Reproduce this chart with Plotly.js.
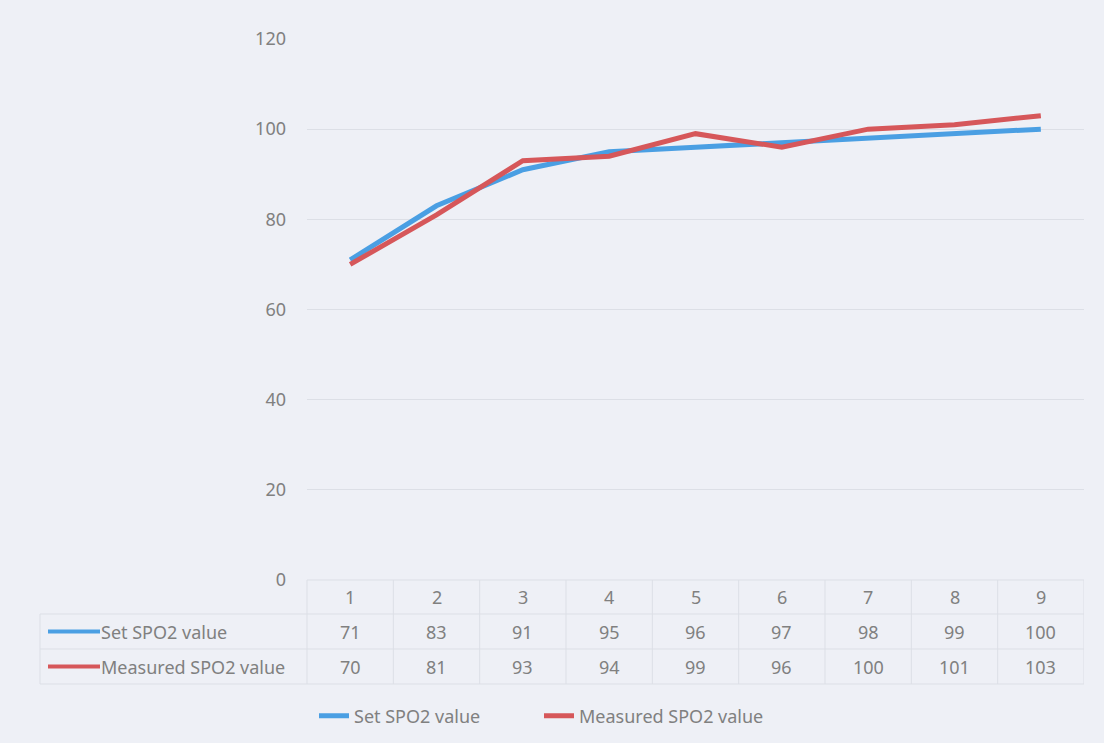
<!DOCTYPE html>
<html><head><meta charset="utf-8">
<script src="https://cdn.plot.ly/plotly-3.0.1.min.js"></script>
<style>html,body{margin:0;padding:0;background:#eef0f6;}</style>
</head><body>
<div id="chart" style="width:1104px;height:743px;"></div>
<script>
const categories = [1, 2, 3, 4, 5, 6, 7, 8, 9];
const setSPO2 = [71, 83, 91, 95, 96, 97, 98, 99, 100];
const measuredSPO2 = [70, 81, 93, 94, 99, 96, 100, 101, 103];
const seriesNames = ["Set SPO2 value", "Measured SPO2 value"];
const yTicks = [0, 20, 40, 60, 80, 100, 120];

const blue = "#4a9fe3", red = "#d6575a", grey = "#808080", gridc = "#dcdfe6";
const font = {family: "Noto Sans, Open Sans, sans-serif", size: 18, color: grey};

// table geometry (paper coords)
const L = 307, W = 777, T = 39, H = 541;
const B0 = T + H;
const px = v => (v - L) / W, py = v => (B0 - v) / H;
const rowTop = py(B0), r1 = py(614), r2 = py(649), r3 = py(684);
const tableLeft = px(40);

const shapes = [];
const ln = (x0, y0, x1, y1, xref) => shapes.push({type: "line", xref: xref || "paper", yref: "paper", x0, y0, x1, y1, line: {color: gridc, width: 1}, layer: "below"});
ln(0, rowTop, 1, rowTop);
[r1, r2, r3].forEach(y => ln(tableLeft, y, 1, y));
ln(tableLeft, r1, tableLeft, r3);
ln(0, rowTop, 0, r3);
categories.forEach((c, i) => ln(c + 0.5, rowTop, c + 0.5, r3, "x"));

const annotations = [];
const rowsY = [(rowTop + r1) / 2, (r1 + r2) / 2, (r2 + r3) / 2];
const cell = (x, y, text, xref, xanchor) => annotations.push({x, y, xref, yref: "paper", xanchor: xanchor || "center", yanchor: "middle", text, showarrow: false, font});
categories.forEach((c, i) => {
  cell(c, rowsY[0], String(c), "x");
  cell(c, rowsY[1], String(setSPO2[i]), "x");
  cell(c, rowsY[2], String(measuredSPO2[i]), "x");
});
[[blue, seriesNames[0], rowsY[1]], [red, seriesNames[1], rowsY[2]]].forEach(([col, name, y]) => {
  shapes.push({type: "line", xref: "paper", yref: "paper", x0: px(48), x1: px(100), y0: y, y1: y, line: {color: col, width: 4}});
  cell(px(99), y, name, "paper", "left");
});

const traces = [
  {x: categories, y: setSPO2, name: seriesNames[0], type: "scatter", mode: "lines", line: {color: blue, width: 5}},
  {x: categories, y: measuredSPO2, name: seriesNames[1], type: "scatter", mode: "lines", line: {color: red, width: 5}}
];

const layout = {
  width: 1104, height: 743,
  margin: {l: L, r: 1104 - L - W, t: T, b: 743 - T - H, autoexpand: false},
  paper_bgcolor: "#eef0f6", plot_bgcolor: "rgba(0,0,0,0)",
  font,
  showlegend: true,
  legend: {orientation: "h", x: px(314), xanchor: "left", y: py(716), yanchor: "middle", font, bgcolor: "rgba(0,0,0,0)", entrywidth: 180, entrywidthmode: "pixels"},
  xaxis: {range: [0.5, 9.5], showgrid: false, zeroline: false, showticklabels: false, ticks: "", showline: false, fixedrange: true},
  yaxis: {range: [0, 120], tickvals: yTicks, showgrid: true, gridcolor: gridc, gridwidth: 1, zeroline: false, showline: false, ticks: "", ticklabelstandoff: 20, tickfont: font},
  shapes, annotations
};
Plotly.newPlot("chart", traces, layout, {displayModeBar: false, staticPlot: true});
</script>
</body></html>
